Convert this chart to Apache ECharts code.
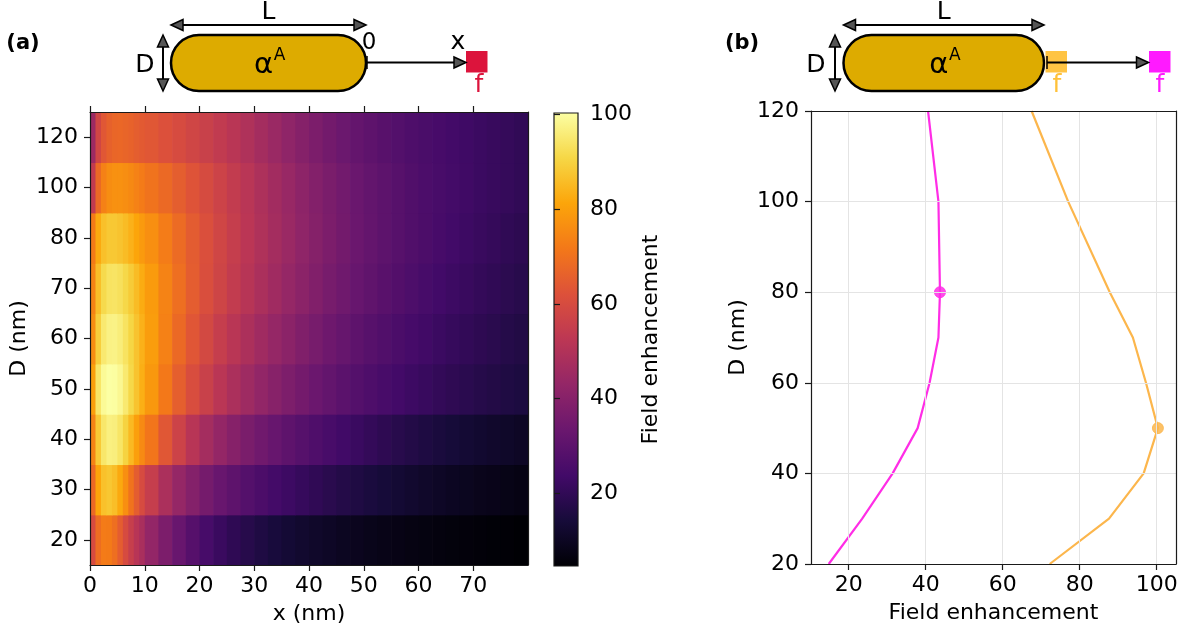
<!DOCTYPE html>
<html><head><meta charset="utf-8">
<script src="https://cdn.jsdelivr.net/npm/echarts@6/dist/echarts.min.js"></script>
<style>html,body{margin:0;padding:0;background:#fff}#c{width:1182px;height:630px}</style>
</head><body><div id="c"></div><script>
// ---------------- data ----------------
const dCategories = ['20','30','40','50','60','70','80','100','120'];
const xEdges = [0,1,2,3,4,5,6,7,8,9,10,12.5,15,17.5,20,22.5,25,27.5,30,32.5,35,37.5,40,42.5,45,47.5,50,52.5,55,57.5,60,62.5,65,67.5,70,72.5,75,77.5,80];
const row20  = [60,69,72.2,72,69.5,65,60,55.5,51.5,48, 43,37.5,33,28.5,25,22,19.8,17.9, 16.2,14.8,13.6,12.5,11.6,10.8,10,9.3,8.7,8.2,7.7,7.3,6.9,6.5,6.2,5.9,5.6,5.3,5,4.7];
const row30  = [68,81,86.5,87.6,86,82,76.5,70.5,65,60, 55,48.5,43.5,39.5,36,33,30.4,28.2, 26.2,24.4,22.8,21.3,19.9,18.6,17.4,16.3,15.2,14.2,13.3,12.4,11.6,10.8,10.1,9.5,8.9,8.4,7.9,7.4];
const row40  = [74,88,94.5,96.6,96.3,94,90,85,80,75.5, 71,63.5,57,51.5,47,43.2,40,37.2, 34.8,32.6,30.6,28.7,26.9,25.2,23.6,22.1,20.7,19.4,18.2,17.1,16.1,15.1,14.2,13.4,12.6,11.9,11.3,10.7];
const row50  = [80,94,99,100.3,100,98.5,95,91,87,83, 78.5,71.5,65.5,60.5,56,52,48.5,45.5, 42.7,40.2,37.8,35.6,33.5,31.6,29.8,28.2,26.7,25.3,24,22.8,21.7,20.6,19.6,18.7,17.8,17,16.3,15.6];
const row60  = [76,89,95,97,97.2,96,93.5,90.5,87,83.5, 79.5,73.5,68,63.3,59,55.2,51.8,48.8, 46,43.5,41,38.6,36.4,34.3,32.4,30.6,28.9,27.4,26,24.7,23.5,22.4,21.3,20.3,19.4,18.5,17.6,16.8];
const row70  = [74,86,91.5,93.5,93.8,93,91,88.5,85.5,82.5, 79,74,69.3,65,61,57.5,54.3,51.3, 48.5,46,43.5,41,38.7,36.5,34.5,32.6,30.9,29.3,27.8,26.4,25.1,23.9,22.8,21.8,20.8,19.9,19,18.2];
const row80  = [72,82,86.3,87.8,87.8,87,85.5,83.5,81.2,78.8, 76.5,72.5,68.5,64.8,61.3,58,55,52.2, 49.5,47,44.5,42,39.7,37.5,35.5,33.6,31.9,30.3,28.8,27.4,26.1,24.9,23.8,22.8,21.8,20.9,20,19.2];
const row100 = [54,68,73.5,76,77,77,76.3,75.2,73.8,72.2, 70.5,68,65.3,62.5,59.7,57,54.3,51.7, 49,46.5,44,41.6,39.3,37.2,35.2,33.4,31.7,30.2,28.8,27.5,26.3,25.2,24.2,23.3,22.4,21.6,20.9,20.2];
const row120 = [45,58,63.5,66,67.3,67.5,67,66.3,65.3,64.3, 63.5,61.8,60,58,56,54,51.8,49.5, 47,44.5,42,39.7,37.5,35.5,33.7,32,30.5,29.1,27.9,26.8,25.8,24.9,24,23.2,22.4,21.6,20.9,20.2];
const heatXTicks = [0,10,20,30,40,50,60,70];
const cbMin = 4.7, cbMax = 100.3;
const cbTicks = [20,40,60,80,100];
// right panel
const dLine = [20,30,40,50,60,70,80,100,120];
const fieldFar = [14.8,23.5,31.4,37.9,41,43.3,43.7,43.3,40.6];   // magenta f
const fieldTip = [72.2,87.6,96.6,100.3,97.2,93.8,87.8,77,67.5];   // orange f
const rightXTicks = [20,40,60,80,100];
const farMarkerIdx = 6, tipMarkerIdx = 3;

// ---------------- styling ----------------
const FONT = 'DejaVu Sans';
const AX = '#1a1a1a';
const PINK = '#ff2de6';
const ORANGE = '#fcb64c';
const inferno = ['#000004','#160b39','#420a68','#6a176e','#932667','#bc3754','#dd513a','#f37819','#fca50a','#f6d746','#fcffa4'];

const rows = [row20,row30,row40,row50,row60,row70,row80,row100,row120];
const heatData = [];
rows.forEach((r, yi) => r.forEach((v, xi) => heatData.push([xEdges[xi], xEdges[xi+1], yi, v])));

const lbl = {fontSize:22, color:'#000', fontFamily:FONT};
const axLine = {show:true, onZero:false, lineStyle:{color:AX, width:1.2}};
const tick = {show:true, length:6, lineStyle:{color:AX, width:1.2}};

// ---------------- diagram graphics ----------------
const G = [];
function line(x1,y1,x2,y2,w){G.push({type:'line', shape:{x1,y1,x2,y2}, style:{stroke:'#000', lineWidth:w||2}, z:100});}
function head(tx,ty,dir){
  const L=12, W=5.5; let p;
  if(dir==='r') p=[[tx,ty],[tx-L,ty-W],[tx-L,ty+W]];
  if(dir==='l') p=[[tx,ty],[tx+L,ty-W],[tx+L,ty+W]];
  if(dir==='u') p=[[tx,ty],[tx-W,ty+L],[tx+W,ty+L]];
  if(dir==='d') p=[[tx,ty],[tx-W,ty-L],[tx+W,ty-L]];
  G.push({type:'polygon', shape:{points:p}, style:{fill:'#555', stroke:'#000', lineWidth:1.5, lineJoin:'miter'}, z:101});
}
function txt(x,y,t,size,color,weight){G.push({type:'text', x, y, style:{text:t, fontSize:size, fontFamily:FONT, fontWeight:weight||'normal', fill:color||'#000', align:'center', verticalAlign:'middle'}, z:102});}
function sq(x,y,c,op){G.push({type:'rect', shape:{x,y,width:21.5,height:21.5}, style:{fill:c, opacity:op||1}, z:99});}
function rod(x,w){
  G.push({type:'rect', shape:{x, y:35, width:w, height:56, r:28}, style:{fill:'#ddab00', stroke:'#000', lineWidth:2.5}, z:98});
  line(x+4,25,x+w-4,25); head(x,25,'l'); head(x+w,25,'r');
  txt(x+w/2,12,'L',25);
  txt(x+w/2-5,65,'α',29); txt(x+w/2+11,56,'A',17);
}
// panel (a)
txt(23,44,'(a)',21,'#000','bold');
rod(171,195);
line(163,40,163,86); head(163,35,'u'); head(163,91,'d');
txt(145,65,'D',25);
txt(369,43,'0',23);
line(367,56,367,69,1.5);
line(367,62.5,462,62.5); head(466,62.5,'r');
txt(458,42,'x',25);
sq(466,51,'#dc143c');
txt(479,85,'f',25,'#dc143c');
// panel (b)
txt(742,44,'(b)',21,'#000','bold');
rod(843.5,200.5);
line(835,40,835,86); head(835,35,'u'); head(835,91,'d');
txt(816,65,'D',25);
sq(1045.5,51,'#ffc13a',0.95);
line(1047,56,1047,69,1.5);
line(1047,62.5,1144,62.5); head(1148.5,62.5,'r');
sq(1149,51,'#ff1aff');
txt(1057,85,'f',25,'#ffc13a');
txt(1160,85,'f',25,'#ff1aff');

// ---------------- chart ----------------
const chart = echarts.init(document.getElementById('c'), null, {renderer:'canvas'});
const option = {
  animation:false,
  backgroundColor:'#fff',
  textStyle:{fontFamily:FONT},
  grid:[
    {left:90, top:112, width:438, height:453},
    {left:554, top:113, width:24, height:453},
    {left:811, top:111, width:365, height:453}
  ],
  visualMap:[{type:'continuous', show:false, seriesIndex:0, dimension:3, min:cbMin, max:cbMax, inRange:{color:inferno}}],
  xAxis:[
    {gridIndex:0, type:'value', min:0, max:80, position:'bottom', z:10,
     axisLine:axLine, axisTick:Object.assign({customValues:heatXTicks}, tick),
     axisLabel:Object.assign({customValues:heatXTicks, margin:10}, lbl), splitLine:{show:false},
     name:'x (nm)', nameLocation:'middle', nameGap:38, nameTextStyle:lbl},
    {gridIndex:0, type:'value', min:0, max:80, position:'top', z:10,
     axisLine:axLine, axisTick:Object.assign({customValues:heatXTicks}, tick),
     axisLabel:{show:false}, splitLine:{show:false}},
    {gridIndex:1, type:'value', min:0, max:1, show:false},
    {gridIndex:2, type:'value', min:10.2, max:105, position:'bottom', z:10,
     axisLine:axLine, axisTick:Object.assign({customValues:rightXTicks}, tick),
     axisLabel:Object.assign({customValues:rightXTicks, margin:10}, lbl), splitLine:{show:false},
     name:'Field enhancement', nameLocation:'middle', nameGap:38, nameTextStyle:lbl},
    {gridIndex:2, type:'value', min:10.2, max:105, position:'top', z:10,
     axisLine:axLine, axisTick:{show:false}, axisLabel:{show:false}, splitLine:{show:false}}
  ],
  yAxis:[
    {gridIndex:0, type:'category', data:dCategories, position:'left', z:10, boundaryGap:true,
     axisLine:axLine, axisTick:Object.assign({alignWithLabel:true}, tick),
     axisLabel:Object.assign({margin:12}, lbl), splitLine:{show:false},
     name:'D (nm)', nameLocation:'middle', nameRotate:90, nameGap:60, nameTextStyle:lbl},
    {gridIndex:0, type:'category', data:dCategories, position:'right', z:10,
     axisLine:axLine, axisTick:{show:false}, axisLabel:{show:false}, splitLine:{show:false}},
    {gridIndex:1, type:'value', min:cbMin, max:cbMax, position:'right', z:10,
     axisLine:{show:false}, axisTick:Object.assign({customValues:cbTicks}, tick),
     axisLabel:Object.assign({customValues:cbTicks, margin:12}, lbl), splitLine:{show:false},
     name:'Field enhancement', nameLocation:'middle', nameRotate:90, nameGap:62, nameTextStyle:lbl},
    {gridIndex:2, type:'value', min:20, max:120, interval:20, position:'left', z:10,
     axisLine:axLine, axisTick:tick, axisLabel:Object.assign({margin:12}, lbl),
     splitLine:{show:true, lineStyle:{color:'#e4e4e4', width:1}},
     name:'D (nm)', nameLocation:'middle', nameRotate:90, nameGap:62, nameTextStyle:lbl},
    {gridIndex:2, type:'value', min:20, max:120, position:'right', z:10,
     axisLine:axLine, axisTick:{show:false}, axisLabel:{show:false}, splitLine:{show:false}}
  ],
  series:[
    {type:'custom', xAxisIndex:0, yAxisIndex:0, data:heatData, silent:true, clip:true,
     dimensions:['x0','x1','d','v'], encode:{x:[0,1], y:2},
     renderItem(params, api){
       const yi = api.value(2);
       const p0 = api.coord([api.value(0), yi]);
       const p1 = api.coord([api.value(1), yi]);
       const h = api.size([0,1])[1];
       return {type:'rect', shape:{x:p0[0], y:p0[1]-h/2, width:p1[0]-p0[0]+0.7, height:h+0.7},
               style:{fill:api.visual('color')}};
     }},
    {type:'custom', xAxisIndex:2, yAxisIndex:2, data:[[0, cbMin, cbMax]], silent:true,
     renderItem(params, api){
       const a = api.coord([0, api.value(2)]);
       const b = api.coord([1, api.value(1)]);
       return {type:'rect', shape:{x:a[0], y:a[1], width:b[0]-a[0], height:b[1]-a[1]},
               style:{fill:{type:'linear', x:0, y:1, x2:0, y2:0,
                 colorStops:inferno.map((c,i)=>({offset:i/(inferno.length-1), color:c}))},
                 stroke:AX, lineWidth:1.2}};
     }},
    {type:'line', xAxisIndex:3, yAxisIndex:3, data:[[20,20]], symbol:'none', silent:true, z:1,
     lineStyle:{opacity:0},
     markLine:{silent:true, symbol:['none','none'], label:{show:false}, animation:false,
       lineStyle:{color:'#e4e4e4', width:1, type:'solid'},
       data:rightXTicks.map(v=>({xAxis:v}))}},
    {type:'line', xAxisIndex:3, yAxisIndex:3, data:dLine.map((d,i)=>[fieldFar[i], d]), symbol:'none', z:3,
     lineStyle:{color:PINK, width:2.2}},
    {type:'line', xAxisIndex:3, yAxisIndex:3, data:dLine.map((d,i)=>[fieldTip[i], d]), symbol:'none', z:3,
     lineStyle:{color:ORANGE, width:2.2}},
    {type:'scatter', xAxisIndex:3, yAxisIndex:3, data:[[fieldFar[farMarkerIdx], dLine[farMarkerIdx]]], symbolSize:11, z:4,
     itemStyle:{color:PINK, opacity:0.85, borderColor:PINK, borderWidth:1}},
    {type:'scatter', xAxisIndex:3, yAxisIndex:3, data:[[fieldTip[tipMarkerIdx], dLine[tipMarkerIdx]]], symbolSize:11, z:4,
     itemStyle:{color:ORANGE, opacity:0.85, borderColor:ORANGE, borderWidth:1}}
  ],
  graphic:G
};
chart.setOption(option);
</script></body></html>
